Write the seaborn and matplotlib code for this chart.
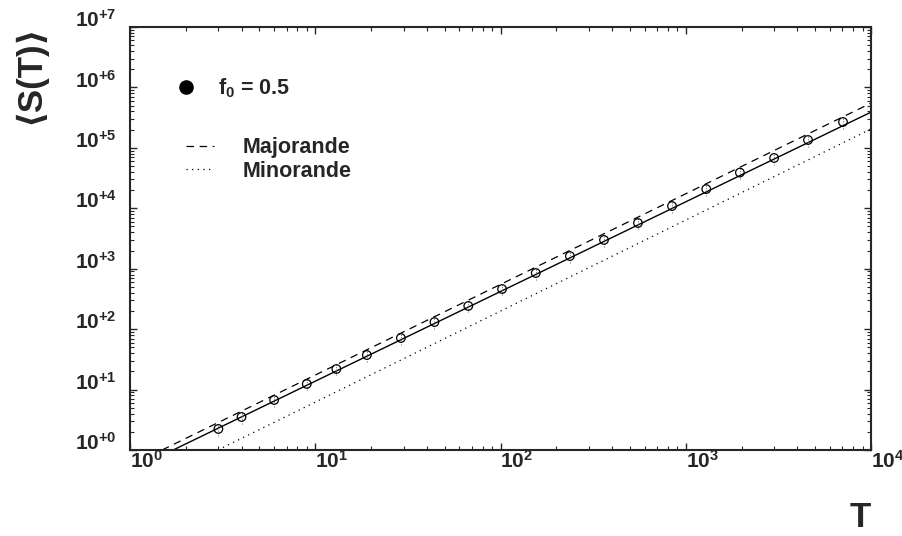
import numpy as np
import pandas as pd
import seaborn as sns
import matplotlib.pyplot as plt
from matplotlib.lines import Line2D

# --- data ---
T_pts = [3, 4, 6, 9, 13, 19, 29, 44, 67, 102, 155, 237, 362, 552, 843, 1290, 1960, 3000, 4570, 7060]
S_pts = [2.23, 3.52, 6.72, 12.4, 21.9, 37.3, 71.3, 131, 242, 461, 849, 1620, 2990, 5710,
         10900, 20800, 39000, 68000, 135000, 268000]
S_err = [0.5, 0.8, 1.5, 2.7, 4.8, 8.2, 16, 29, 53, 100, 190, 360, 660, 1250, 2400, 4600,
         8600, 15000, 30000, 59000]

# straight lines on log-log (end points read at the frame edges)
T_fit = [1.71, 10000]
S_fit = [1.0, 390000]
T_maj = [1.49, 10000]
S_maj = [1.0, 550000]
T_min = [2.98, 10000]
S_min = [1.0, 205000]

x_ticks = [1, 10, 100, 1000, 10000]
x_labels = [r'$\mathbf{10^{0}}$', r'$\mathbf{10^{1}}$', r'$\mathbf{10^{2}}$',
            r'$\mathbf{10^{3}}$', r'$\mathbf{10^{4}}$']
y_ticks = [1, 10, 100, 1e3, 1e4, 1e5, 1e6, 1e7]
y_labels = [r'$\mathbf{10^{+%d}}$' % k for k in range(8)]

sns.set_style('ticks')
plt.rcParams.update({
    'font.family': ['Liberation Sans', 'DejaVu Sans'], 'font.weight': 'bold',
    'mathtext.fontset': 'custom', 'mathtext.bf': 'Liberation Sans:bold',
    'mathtext.rm': 'Liberation Sans:bold', 'mathtext.it': 'Liberation Sans:bold',
    'axes.linewidth': 1.5, 'xtick.direction': 'in', 'ytick.direction': 'in',
    'xtick.top': True, 'ytick.right': True,
})

fig = plt.figure(figsize=(9.03, 5.36), dpi=100)
ax = fig.add_axes([130 / 903, 86 / 536, 741 / 903, 423 / 536])

pts = pd.DataFrame({'T': T_pts, 'S': S_pts})
sns.lineplot(x=T_fit, y=S_fit, ax=ax, color='black', lw=1.0)
sns.lineplot(x=T_maj, y=S_maj, ax=ax, color='black', lw=0.9, linestyle=(0, (6, 4.5)))
sns.lineplot(x=T_min, y=S_min, ax=ax, color='black', lw=0.9, linestyle=(0, (1, 3.5)))
eb = ax.errorbar(T_pts, S_pts, yerr=S_err, fmt='none', ecolor='#666666', elinewidth=0.7,
                 capsize=0)
eb[2][0].set_linestyle((0, (1, 1.5)))
sns.scatterplot(data=pts, x='T', y='S', ax=ax, marker='o', s=38,
                facecolor='none', edgecolor='black', linewidth=0.9, zorder=5)

ax.set_xscale('log')
ax.set_yscale('log')
ax.set_xlim(1, 1e4)
ax.set_ylim(1, 1e7)
ax.set_xticks(x_ticks, x_labels)
ax.set_yticks(y_ticks, y_labels)
ax.tick_params(which='major', length=5, width=1.0)
ax.tick_params(which='minor', length=2.8, width=0.8)
ax.tick_params(axis='x', which='major', pad=0, labelsize=15)
ax.tick_params(axis='y', which='major', pad=9.4, labelsize=15)
for lbl in ax.get_xticklabels():
    lbl.set_horizontalalignment('left')
    lbl.set_verticalalignment('top')
for lbl in ax.get_yticklabels():
    lbl.set_verticalalignment('baseline')
ax.set_xlabel('')
ax.set_ylabel('')

# axis titles
fig.text(30 / 903, 1 - 74 / 536, '⟨S(T)⟩', rotation=90, fontsize=25, fontweight='bold',
         ha='center', va='center')
fig.text(871 / 903, 1 - 527 / 536, 'T', fontsize=25, fontweight='bold', ha='right', va='baseline')

# legends
h1 = [Line2D([], [], marker='o', color='black', ls='none', markersize=9.5)]
leg1 = ax.legend(h1, [r'$\mathbf{f_{0}}$ = 0.5'], loc='center left', frameon=False,
                 bbox_to_anchor=(179.5 / 903, 1 - 88 / 536), bbox_transform=fig.transFigure,
                 borderpad=0, borderaxespad=0, handlelength=0.6, handletextpad=1.2,
                 prop={'size': 15.5, 'weight': 'bold'})
ax.add_artist(leg1)
h2 = [Line2D([], [], color='black', lw=0.9, ls=(0, (6, 4.5))),
      Line2D([], [], color='black', lw=0.9, ls=(0, (1, 3.5)))]
ax.legend(h2, ['Majorande', 'Minorande'], loc='center left', frameon=False,
          bbox_to_anchor=(186 / 903, 1 - 159.5 / 536), bbox_transform=fig.transFigure,
          borderpad=0, borderaxespad=0, handlelength=1.3, handletextpad=1.35,
          labelspacing=0.1, prop={'size': 15.5, 'weight': 'bold'})

fig.savefig('out.png', dpi=100)
